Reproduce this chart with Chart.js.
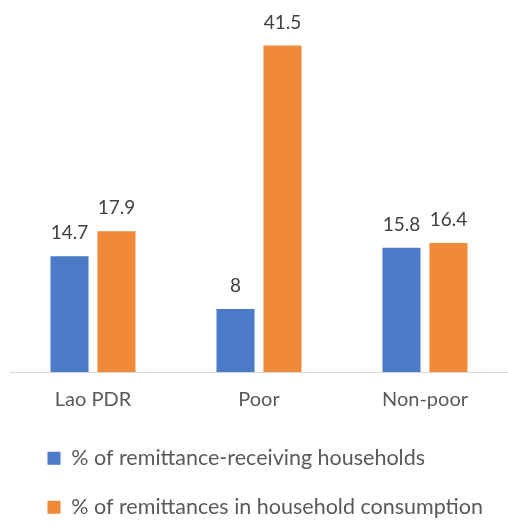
<!DOCTYPE html>
<html>
<head>
<meta charset="utf-8">
<script src="https://cdn.jsdelivr.net/npm/chart.js@4/dist/chart.umd.min.js"></script>
<style>
  body { margin: 0; background: #fff; }
  #wrap { width: 508px; height: 525px; }
</style>
</head>
<body>
<div id="wrap"><canvas id="remitChart"></canvas></div>
<script>
const categories = ["Lao PDR", "Poor", "Non-poor"];
const receivingHouseholds = [14.7, 8, 15.8];
const shareOfConsumption = [17.9, 41.5, 16.4];
const seriesNames = ["% of remittance-receiving households", "% of remittances in household consumption"];

// value labels above each bar
const barLabels = {
    id: 'barLabels',
    afterDatasetsDraw(chart) {
        const c = chart.ctx;
        c.save();
        c.font = '19px Lato';
        c.fillStyle = '#404040';
        c.textAlign = 'center';
        c.textBaseline = 'middle';
        chart.data.datasets.forEach((ds, i) => {
            chart.getDatasetMeta(i).data.forEach((bar, j) => {
                c.fillText(String(ds.data[j]), bar.x, bar.y - 23);
            });
        });
        c.restore();
    }
};

// legend sits a little further in than chart.js puts it
const legendNudge = {
    id: 'legendNudge',
    afterLayout(chart) {
        chart.legend.left += 10;
    }
};

new Chart(document.getElementById('remitChart').getContext('2d'), {
    type: 'bar',
    data: {
        labels: categories,
        datasets: [{
            label: seriesNames[0],
            data: receivingHouseholds,
            backgroundColor: '#4a7ac8'
        }, {
            label: seriesNames[1],
            data: shareOfConsumption,
            backgroundColor: '#f08a38'
        }]
    },
    options: {
        responsive: true,
        maintainAspectRatio: false,
        animation: false,
        categoryPercentage: 0.566,
        barPercentage: 0.81,
        layout: { padding: { top: 10, left: 10, right: 0, bottom: -3 } },
        scales: {
            x: {
                grid: { display: false },
                border: { display: true, color: '#d9d9d9', width: 1 },
                ticks: { color: '#595959', font: { family: 'Lato', size: 20 }, padding: 8 },
                afterFit(scale) { scale.height = 48; }
            },
            y: {
                display: false,
                min: 0,
                max: 46
            }
        },
        plugins: {
            tooltip: { enabled: false },
            legend: {
                position: 'bottom',
                align: 'start',
                labels: {
                    color: '#595959',
                    font: { family: 'Lato', size: 21.5 },
                    boxWidth: 13,
                    boxHeight: 13,
                    padding: 27.5
                }
            }
        }
    },
    plugins: [barLabels, legendNudge]
});
</script>
</body>
</html>
